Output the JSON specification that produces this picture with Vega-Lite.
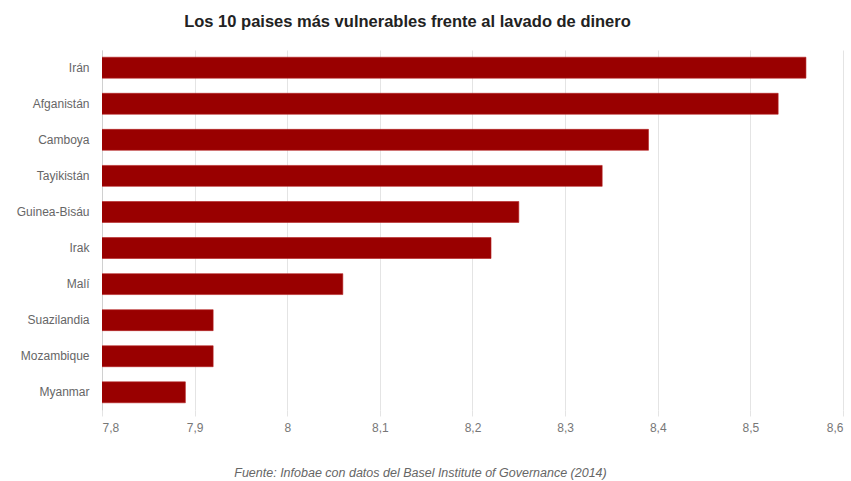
{
  "$schema": "https://vega.github.io/schema/vega-lite/v6.json",
  "width": 741,
  "height": 360,
  "autosize": {"type": "none"},
  "padding": {"left": 102, "top": 50, "right": 8, "bottom": 71},
  "background": "white",
  "title": {
    "text": "Los 10 paises más vulnerables frente al lavado de dinero",
    "anchor": "middle",
    "dx": -65,
    "offset": 20,
    "font": "Liberation Sans",
    "fontSize": 16.5,
    "fontWeight": "bold",
    "color": "#222222"
  },
  "data": {
    "values": [
      {"pais": "Irán", "valor": 8.56},
      {"pais": "Afganistán", "valor": 8.53},
      {"pais": "Camboya", "valor": 8.39},
      {"pais": "Tayikistán", "valor": 8.34},
      {"pais": "Guinea-Bisáu", "valor": 8.25},
      {"pais": "Irak", "valor": 8.22},
      {"pais": "Malí", "valor": 8.06},
      {"pais": "Suazilandia", "valor": 7.92},
      {"pais": "Mozambique", "valor": 7.92},
      {"pais": "Myanmar", "valor": 7.89}
    ]
  },
  "mark": {"type": "bar", "color": "#990000", "clip": true, "stroke": "#b52020", "strokeWidth": 0.6},
  "encoding": {
    "y": {
      "field": "pais",
      "type": "nominal",
      "sort": null,
      "scale": {"paddingInner": 0.42, "paddingOuter": 0.2},
      "axis": {
        "title": null,
        "ticks": false,
        "domain": true,
        "domainColor": "#d0d0d0",
        "labelPadding": 13,
        "labelFont": "Liberation Sans",
        "labelFontSize": 12,
        "labelColor": "#666666"
      }
    },
    "x": {
      "field": "valor",
      "type": "quantitative",
      "scale": {"domain": [7.8, 8.6], "nice": false, "zero": false},
      "axis": {
        "values": [7.8, 7.9, 8, 8.1, 8.2, 8.3, 8.4, 8.5, 8.6],
        "labelExpr": "replace(format(datum.value, '.1~f'), '.', ',')",
        "grid": true,
        "gridColor": "#e4e4e4",
        "domain": false,
        "ticks": true,
        "tickColor": "#e4e4e4",
        "tickSize": 6,
        "labelPadding": 6,
        "labelFont": "Liberation Sans",
        "labelFontSize": 12,
        "labelColor": "#777777",
        "title": "Fuente: Infobae con datos del Basel Institute of Governance (2014)",
        "titleFont": "Liberation Sans",
        "titleFontSize": 12.5,
        "titleFontStyle": "italic",
        "titleFontWeight": "normal",
        "titleColor": "#666666",
        "titleX": 318,
        "titleY": 56
      }
    }
  },
  "config": {"view": {"stroke": null}}
}
